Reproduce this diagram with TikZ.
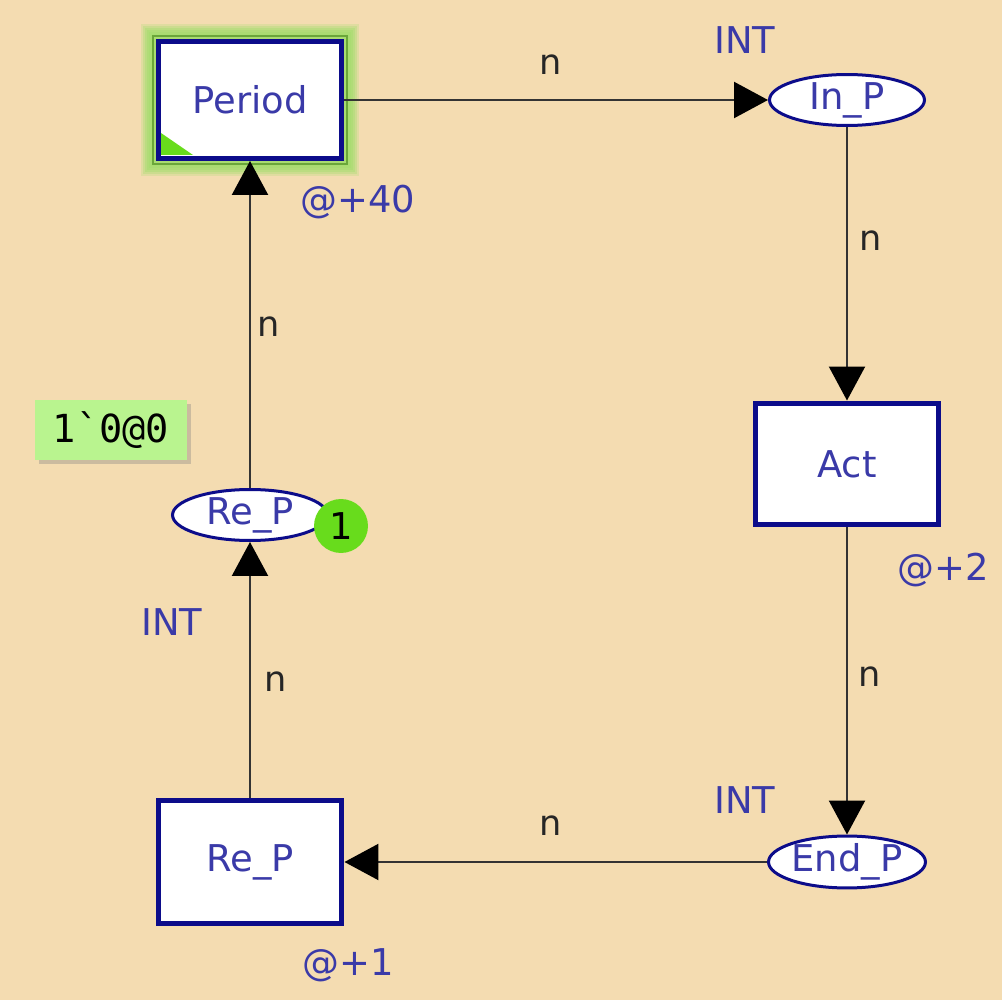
\documentclass[tikz,border=0pt]{standalone}
\usepackage{fontspec}
\setmainfont{DejaVu Sans}
\newfontfamily\cpnmono{DejaVu Sans Mono}
\usetikzlibrary{shapes.geometric,arrows.meta,shadows}
\definecolor{cpnbg}{HTML}{F4DCB1}
\definecolor{cpnblue}{HTML}{0C0C8A}
\definecolor{cpntext}{HTML}{3A3AA8}
\definecolor{cpnline}{HTML}{333333}
\definecolor{cpnglow}{HTML}{A8DC70}
\definecolor{cpnglowedge}{HTML}{6AA63A}
\definecolor{cpntoken}{HTML}{68DC1C}
\definecolor{cpnmark}{HTML}{B9F48F}

\begin{document}
\begin{tikzpicture}[x=0.02cm,y=-0.02cm,
                    trans/.style={draw=cpnblue,line width=0.1cm,fill=white,
                      minimum width=3.66cm,minimum height=2.44cm,inner sep=0pt,
                      text=cpntext,font=\fontsize{21}{24}\selectfont},
                    place/.style={ellipse,draw=cpnblue,line width=0.06cm,fill=white,
                      minimum width=3.1cm,minimum height=1.02cm,inner sep=0pt,
                      text=cpntext,font=\fontsize{21}{24}\selectfont},
                    arc/.style={draw=cpnline,line width=0.045cm,
                      -{Triangle[length=0.68cm,width=0.72cm,color=black]}},
                    inscr/.style={text=black!85,font=\fontsize{20}{24}\selectfont},
                    ann/.style={text=cpntext,font=\fontsize{21}{24}\selectfont}]
  \fill[cpnbg] (0,0) rectangle (1002,1000);
  \useasboundingbox (0,0) rectangle (1002,1000);

  % glow round the enabled transition
  \foreach \d/\o in {14/0.25,12/0.35,10/0.45,8/0.55,6/0.7,4/0.85}
    \fill[cpnglow,opacity=\o] (155-\d,38-\d) rectangle (345+\d,162+\d);
  \draw[cpnglowedge,line width=0.04cm] (153,36) rectangle (347,164);

  % transitions
  \node[trans,minimum height=2.34cm] (Period) at (250,100) {Period};
  \node[trans,minimum height=2.44cm] (Act) at (847,464) {Act};
  \node[trans,minimum width=3.68cm,minimum height=2.48cm] (ReT) at (250,862) {Re\_P};
  \fill[cpntoken] (161,133) -- (161,155) -- (193,155) -- cycle;

  % places
  \node[place] (InP) at (847,100) {In\_P};
  \node[place,minimum width=3.14cm] (EndP) at (847,862) {End\_P};
  \node[place] (ReP) at (250,515) {Re\_P};
  \node[circle,fill=cpntoken,minimum size=1.08cm,inner sep=0pt,
        font=\fontsize{21}{24}\selectfont] (tok) at (341,526) {1};
  \node[fill=cpnmark,minimum width=3.04cm,minimum height=1.2cm,inner sep=0pt,
        drop shadow={shadow xshift=0.08cm,shadow yshift=-0.08cm,opacity=0.35},
        font=\fontsize{22}{24}\cpnmono] (mark) at (111,430) {1\symbol{96}0@0};

  % arcs
  \draw[arc] (Period) -- (InP);
  \draw[arc] (InP) -- (Act);
  \draw[arc] (Act) -- (EndP);
  \draw[arc] (EndP) -- (ReT);
  \draw[arc] (ReT) -- (ReP);
  \draw[arc] (ReP) -- (Period);

  % arc inscriptions
  \foreach \X/\Y [count=\i] in {551/65,871/241,870/677,551/826,276/682,269/327}
    \node[inscr] (n\i) at (\X,\Y) {n};

  % colour sets
  \foreach \X/\Y [count=\i] in {745/40,745/800,172/622}
    \node[ann] (int\i) at (\X,\Y) {INT};

  % time delays
  \node[ann] (dPeriod) at (358,202) {@+40};
  \node[ann] (dAct) at (943,570) {@+2};
  \node[ann] (dReT) at (348,965) {@+1};

\end{tikzpicture}
\end{document}
